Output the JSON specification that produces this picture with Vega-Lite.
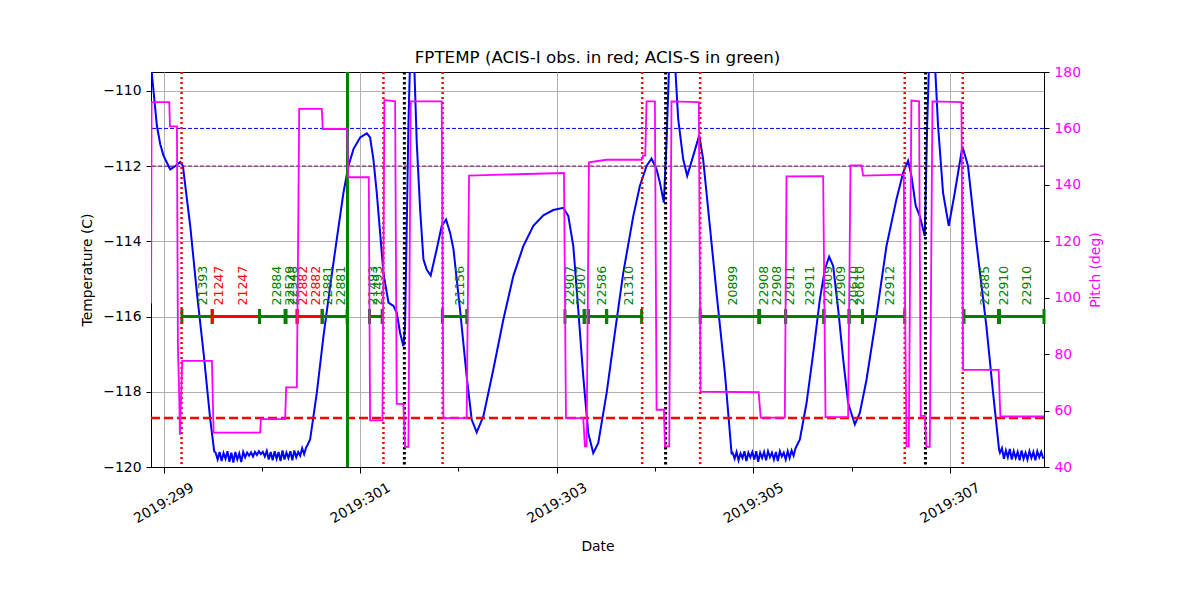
{
  "$schema": "https://vega.github.io/schema/vega-lite/v6.json",
  "width": 893,
  "height": 395,
  "autosize": "none",
  "padding": {"left": 151, "top": 72, "right": 156, "bottom": 133},
  "background": "white",
  "title": {"text": "FPTEMP (ACIS-I obs. in red; ACIS-S in green)", "fontSize": 16.7, "fontWeight": "normal", "font": "DejaVu Sans", "offset": -2, "anchor": "middle", "color": "black"},
  "config": {
    "view": {"stroke": "black", "strokeWidth": 1},
    "font": "DejaVu Sans",
    "axis": {"domainColor": "black", "tickColor": "black", "labelColor": "black", "titleColor": "black", "gridColor": "#b0b0b0", "gridWidth": 1, "labelFontSize": 13.9, "titleFontSize": 13.9, "titleFontWeight": "normal", "labelFont": "DejaVu Sans", "titleFont": "DejaVu Sans", "tickSize": 5}
  },
  "datasets": {
    "temp": [
      {"t": 298.872, "v": -109.3}, {"t": 298.899, "v": -110.04}, {"t": 298.932, "v": -110.93}, {"t": 298.966, "v": -111.42},
      {"t": 299.0, "v": -111.73}, {"t": 299.068, "v": -112.09}, {"t": 299.119, "v": -112.0}, {"t": 299.17, "v": -111.89},
      {"t": 299.197, "v": -112.0}, {"t": 299.221, "v": -112.53}, {"t": 299.271, "v": -113.59}, {"t": 299.339, "v": -115.37},
      {"t": 299.407, "v": -116.97}, {"t": 299.475, "v": -118.74}, {"t": 299.515, "v": -119.58},
      {"t": 299.53, "v": -119.62}, {"t": 299.55, "v": -119.8}, {"t": 299.57, "v": -119.6}, {"t": 299.59, "v": -119.84},
      {"t": 299.61, "v": -119.63}, {"t": 299.63, "v": -119.78}, {"t": 299.65, "v": -119.58}, {"t": 299.67, "v": -119.86},
      {"t": 299.69, "v": -119.62}, {"t": 299.71, "v": -119.88}, {"t": 299.73, "v": -119.6}, {"t": 299.75, "v": -119.8},
      {"t": 299.77, "v": -119.64}, {"t": 299.79, "v": -119.87}, {"t": 299.81, "v": -119.6}, {"t": 299.83, "v": -119.74},
      {"t": 299.85, "v": -119.62}, {"t": 299.87, "v": -119.7}, {"t": 299.89, "v": -119.61}, {"t": 299.91, "v": -119.72},
      {"t": 299.93, "v": -119.6}, {"t": 299.95, "v": -119.68}, {"t": 299.97, "v": -119.58}, {"t": 299.99, "v": -119.66},
      {"t": 300.01, "v": -119.6}, {"t": 300.03, "v": -119.72}, {"t": 300.05, "v": -119.57}, {"t": 300.07, "v": -119.8},
      {"t": 300.09, "v": -119.6}, {"t": 300.11, "v": -119.82}, {"t": 300.13, "v": -119.58}, {"t": 300.15, "v": -119.78},
      {"t": 300.17, "v": -119.6}, {"t": 300.19, "v": -119.84}, {"t": 300.21, "v": -119.56}, {"t": 300.23, "v": -119.8},
      {"t": 300.25, "v": -119.62}, {"t": 300.27, "v": -119.76}, {"t": 300.29, "v": -119.58}, {"t": 300.31, "v": -119.82},
      {"t": 300.33, "v": -119.56}, {"t": 300.35, "v": -119.74}, {"t": 300.37, "v": -119.6}, {"t": 300.39, "v": -119.7},
      {"t": 300.41, "v": -119.5}, {"t": 300.43, "v": -119.66}, {"t": 300.45, "v": -119.48},
      {"t": 300.458, "v": -119.45}, {"t": 300.491, "v": -119.27}, {"t": 300.559, "v": -118.03}, {"t": 300.627, "v": -116.52},
      {"t": 300.695, "v": -115.19}, {"t": 300.762, "v": -113.95}, {"t": 300.83, "v": -112.71}, {"t": 300.881, "v": -112.0},
      {"t": 300.932, "v": -111.55}, {"t": 301.0, "v": -111.24}, {"t": 301.068, "v": -111.13}, {"t": 301.101, "v": -111.24},
      {"t": 301.135, "v": -111.82}, {"t": 301.169, "v": -112.71}, {"t": 301.203, "v": -113.77}, {"t": 301.237, "v": -114.84},
      {"t": 301.288, "v": -115.63}, {"t": 301.339, "v": -115.72}, {"t": 301.373, "v": -115.9}, {"t": 301.406, "v": -116.43},
      {"t": 301.44, "v": -116.79}, {"t": 301.457, "v": -116.26}, {"t": 301.474, "v": -113.59}, {"t": 301.491, "v": -110.93},
      {"t": 301.508, "v": -109.2}, {"t": 301.549, "v": -109.2}, {"t": 301.576, "v": -111.38}, {"t": 301.61, "v": -113.15},
      {"t": 301.644, "v": -114.48}, {"t": 301.677, "v": -114.75}, {"t": 301.718, "v": -114.91}, {"t": 301.779, "v": -114.21},
      {"t": 301.83, "v": -113.59}, {"t": 301.874, "v": -113.42}, {"t": 301.915, "v": -113.77}, {"t": 301.949, "v": -114.2},
      {"t": 302.016, "v": -115.81}, {"t": 302.084, "v": -117.59}, {"t": 302.135, "v": -118.74}, {"t": 302.186, "v": -119.08},
      {"t": 302.254, "v": -118.65}, {"t": 302.355, "v": -117.41}, {"t": 302.457, "v": -116.08}, {"t": 302.559, "v": -114.92},
      {"t": 302.66, "v": -114.13}, {"t": 302.762, "v": -113.59}, {"t": 302.864, "v": -113.31}, {"t": 302.965, "v": -113.17},
      {"t": 303.067, "v": -113.11}, {"t": 303.118, "v": -113.33}, {"t": 303.169, "v": -114.13}, {"t": 303.219, "v": -115.81},
      {"t": 303.27, "v": -117.59}, {"t": 303.321, "v": -119.1}, {"t": 303.372, "v": -119.63}, {"t": 303.423, "v": -119.36},
      {"t": 303.508, "v": -118.03}, {"t": 303.592, "v": -116.43}, {"t": 303.677, "v": -114.84}, {"t": 303.779, "v": -113.33},
      {"t": 303.846, "v": -112.53}, {"t": 303.914, "v": -112.0}, {"t": 303.965, "v": -111.8}, {"t": 304.016, "v": -112.09},
      {"t": 304.05, "v": -112.44}, {"t": 304.09, "v": -112.97}, {"t": 304.117, "v": -111.38}, {"t": 304.145, "v": -109.2},
      {"t": 304.202, "v": -109.2}, {"t": 304.236, "v": -110.75}, {"t": 304.287, "v": -111.82}, {"t": 304.328, "v": -112.26},
      {"t": 304.389, "v": -111.73}, {"t": 304.45, "v": -111.18}, {"t": 304.49, "v": -111.82}, {"t": 304.541, "v": -113.15},
      {"t": 304.626, "v": -115.37}, {"t": 304.711, "v": -117.5}, {"t": 304.779, "v": -119.63},
      {"t": 304.79, "v": -119.62}, {"t": 304.81, "v": -119.78}, {"t": 304.83, "v": -119.6}, {"t": 304.85, "v": -119.82},
      {"t": 304.87, "v": -119.64}, {"t": 304.89, "v": -119.76}, {"t": 304.91, "v": -119.58}, {"t": 304.93, "v": -119.84},
      {"t": 304.95, "v": -119.62}, {"t": 304.97, "v": -119.74}, {"t": 304.99, "v": -119.6}, {"t": 305.01, "v": -119.8},
      {"t": 305.03, "v": -119.58}, {"t": 305.05, "v": -119.86}, {"t": 305.07, "v": -119.62}, {"t": 305.09, "v": -119.76},
      {"t": 305.11, "v": -119.6}, {"t": 305.13, "v": -119.82}, {"t": 305.15, "v": -119.58}, {"t": 305.17, "v": -119.74},
      {"t": 305.19, "v": -119.62}, {"t": 305.21, "v": -119.8}, {"t": 305.23, "v": -119.6}, {"t": 305.25, "v": -119.84},
      {"t": 305.27, "v": -119.58}, {"t": 305.29, "v": -119.72}, {"t": 305.31, "v": -119.62}, {"t": 305.33, "v": -119.8},
      {"t": 305.35, "v": -119.58}, {"t": 305.37, "v": -119.76}, {"t": 305.39, "v": -119.56}, {"t": 305.41, "v": -119.7},
      {"t": 305.43, "v": -119.5},
      {"t": 305.44, "v": -119.45}, {"t": 305.474, "v": -119.27}, {"t": 305.542, "v": -118.3}, {"t": 305.61, "v": -116.97},
      {"t": 305.677, "v": -115.55}, {"t": 305.728, "v": -114.75}, {"t": 305.772, "v": -114.41}, {"t": 305.813, "v": -114.66},
      {"t": 305.864, "v": -115.81}, {"t": 305.915, "v": -117.14}, {"t": 305.965, "v": -118.3}, {"t": 306.033, "v": -118.87},
      {"t": 306.084, "v": -118.56}, {"t": 306.152, "v": -117.68}, {"t": 306.253, "v": -115.99}, {"t": 306.355, "v": -114.13},
      {"t": 306.457, "v": -112.88}, {"t": 306.525, "v": -112.17}, {"t": 306.575, "v": -111.86}, {"t": 306.609, "v": -112.26},
      {"t": 306.653, "v": -113.06}, {"t": 306.694, "v": -113.33}, {"t": 306.745, "v": -113.86}, {"t": 306.769, "v": -110.93},
      {"t": 306.789, "v": -109.2}, {"t": 306.847, "v": -109.2}, {"t": 306.88, "v": -110.93}, {"t": 306.931, "v": -112.71},
      {"t": 306.989, "v": -113.59}, {"t": 307.05, "v": -112.71}, {"t": 307.128, "v": -111.48}, {"t": 307.185, "v": -112.0},
      {"t": 307.27, "v": -114.04}, {"t": 307.372, "v": -116.26}, {"t": 307.44, "v": -118.03}, {"t": 307.501, "v": -119.54},
      {"t": 307.51, "v": -119.62}, {"t": 307.53, "v": -119.5}, {"t": 307.55, "v": -119.78}, {"t": 307.57, "v": -119.56},
      {"t": 307.59, "v": -119.74}, {"t": 307.61, "v": -119.52}, {"t": 307.63, "v": -119.8}, {"t": 307.65, "v": -119.58},
      {"t": 307.67, "v": -119.76}, {"t": 307.69, "v": -119.6}, {"t": 307.71, "v": -119.82}, {"t": 307.73, "v": -119.56},
      {"t": 307.75, "v": -119.78}, {"t": 307.77, "v": -119.62}, {"t": 307.79, "v": -119.8}, {"t": 307.81, "v": -119.58},
      {"t": 307.83, "v": -119.76}, {"t": 307.85, "v": -119.6}, {"t": 307.87, "v": -119.82}, {"t": 307.89, "v": -119.58},
      {"t": 307.91, "v": -119.74}, {"t": 307.93, "v": -119.6}, {"t": 307.95, "v": -119.78}
    ],
    "pitch": [
      {"t": 298.873, "p": 98}, {"t": 298.878, "p": 169.3}, {"t": 299.058, "p": 169.3}, {"t": 299.065, "p": 160.7},
      {"t": 299.136, "p": 160.7}, {"t": 299.146, "p": 82.6}, {"t": 299.16, "p": 63.8}, {"t": 299.166, "p": 51.4},
      {"t": 299.19, "p": 77.6}, {"t": 299.492, "p": 77.6}, {"t": 299.509, "p": 52.2}, {"t": 299.983, "p": 52.2},
      {"t": 299.99, "p": 57.0}, {"t": 300.237, "p": 57.0}, {"t": 300.247, "p": 68.2}, {"t": 300.356, "p": 68.2},
      {"t": 300.38, "p": 166.9}, {"t": 300.61, "p": 166.9}, {"t": 300.62, "p": 159.8}, {"t": 300.868, "p": 159.8},
      {"t": 300.878, "p": 142.7}, {"t": 301.088, "p": 142.7}, {"t": 301.101, "p": 56.5}, {"t": 301.227, "p": 56.5},
      {"t": 301.247, "p": 170.1}, {"t": 301.356, "p": 169.6}, {"t": 301.372, "p": 62.4}, {"t": 301.44, "p": 62.4},
      {"t": 301.457, "p": 47.1}, {"t": 301.491, "p": 47.1}, {"t": 301.515, "p": 169.6}, {"t": 301.83, "p": 169.6},
      {"t": 301.847, "p": 57.3}, {"t": 302.084, "p": 57.3}, {"t": 302.108, "p": 143.3}, {"t": 303.074, "p": 144.2},
      {"t": 303.094, "p": 57.3}, {"t": 303.27, "p": 57.3}, {"t": 303.287, "p": 47.3}, {"t": 303.304, "p": 47.3},
      {"t": 303.328, "p": 148.0}, {"t": 303.508, "p": 148.9}, {"t": 303.863, "p": 148.9}, {"t": 303.88, "p": 150.4},
      {"t": 303.901, "p": 150.4}, {"t": 303.914, "p": 169.6}, {"t": 303.999, "p": 169.6}, {"t": 304.016, "p": 60.3},
      {"t": 304.091, "p": 60.3}, {"t": 304.101, "p": 47.3}, {"t": 304.145, "p": 47.3}, {"t": 304.168, "p": 169.6},
      {"t": 304.446, "p": 169.3}, {"t": 304.463, "p": 66.7}, {"t": 305.055, "p": 66.5}, {"t": 305.075, "p": 57.5},
      {"t": 305.321, "p": 57.5}, {"t": 305.338, "p": 143.0}, {"t": 305.711, "p": 143.1}, {"t": 305.735, "p": 57.7},
      {"t": 305.965, "p": 57.7}, {"t": 305.989, "p": 146.9}, {"t": 306.101, "p": 146.9}, {"t": 306.118, "p": 143.3},
      {"t": 306.531, "p": 143.6}, {"t": 306.559, "p": 47.3}, {"t": 306.582, "p": 47.3}, {"t": 306.609, "p": 169.9},
      {"t": 306.687, "p": 169.6}, {"t": 306.704, "p": 58.1}, {"t": 306.745, "p": 58.1}, {"t": 306.762, "p": 47.1},
      {"t": 306.796, "p": 47.1}, {"t": 306.823, "p": 169.6}, {"t": 307.118, "p": 169.3}, {"t": 307.135, "p": 74.4},
      {"t": 307.497, "p": 74.4}, {"t": 307.514, "p": 57.9}, {"t": 307.958, "p": 57.9}
    ],
    "segments": [
      {"t": 299.186, "t2": 299.495, "inst": "ACIS-S"},
      {"t": 299.495, "t2": 299.976, "inst": "ACIS-I"},
      {"t": 299.976, "t2": 300.236, "inst": "ACIS-S"},
      {"t": 300.246, "t2": 300.359, "inst": "ACIS-S"},
      {"t": 300.359, "t2": 300.614, "inst": "ACIS-I"},
      {"t": 300.614, "t2": 300.868, "inst": "ACIS-S"},
      {"t": 301.095, "t2": 301.224, "inst": "ACIS-S"},
      {"t": 301.837, "t2": 302.085, "inst": "ACIS-S"},
      {"t": 303.084, "t2": 303.28, "inst": "ACIS-S"},
      {"t": 303.28, "t2": 303.321, "inst": "ACIS-S"},
      {"t": 303.321, "t2": 303.508, "inst": "ACIS-S"},
      {"t": 303.508, "t2": 303.864, "inst": "ACIS-S"},
      {"t": 304.46, "t2": 305.055, "inst": "ACIS-S"},
      {"t": 305.065, "t2": 305.329, "inst": "ACIS-S"},
      {"t": 305.329, "t2": 305.718, "inst": "ACIS-S"},
      {"t": 305.718, "t2": 305.975, "inst": "ACIS-S"},
      {"t": 305.975, "t2": 306.111, "inst": "ACIS-S"},
      {"t": 306.111, "t2": 306.541, "inst": "ACIS-S"},
      {"t": 307.144, "t2": 307.495, "inst": "ACIS-S"},
      {"t": 307.505, "t2": 307.958, "inst": "ACIS-S"}
    ],
    "labels": [
      {"t": 299.397, "obsid": "21393", "inst": "ACIS-S"},
      {"t": 299.559, "obsid": "21247", "inst": "ACIS-I"},
      {"t": 299.807, "obsid": "21247", "inst": "ACIS-I"},
      {"t": 300.153, "obsid": "22884", "inst": "ACIS-S"},
      {"t": 300.288, "obsid": "22529", "inst": "ACIS-S"},
      {"t": 300.316, "obsid": "22548", "inst": "ACIS-S"},
      {"t": 300.417, "obsid": "22882", "inst": "ACIS-I"},
      {"t": 300.55, "obsid": "22882", "inst": "ACIS-I"},
      {"t": 300.668, "obsid": "22881", "inst": "ACIS-S"},
      {"t": 300.804, "obsid": "22881", "inst": "ACIS-S"},
      {"t": 301.135, "obsid": "21493", "inst": "ACIS-S"},
      {"t": 301.186, "obsid": "21493", "inst": "ACIS-S"},
      {"t": 302.017, "obsid": "21156", "inst": "ACIS-S"},
      {"t": 303.135, "obsid": "22907", "inst": "ACIS-S"},
      {"t": 303.244, "obsid": "22907", "inst": "ACIS-S"},
      {"t": 303.464, "obsid": "22586", "inst": "ACIS-S"},
      {"t": 303.735, "obsid": "21310", "inst": "ACIS-S"},
      {"t": 304.796, "obsid": "20899", "inst": "ACIS-S"},
      {"t": 305.111, "obsid": "22908", "inst": "ACIS-S"},
      {"t": 305.243, "obsid": "22908", "inst": "ACIS-S"},
      {"t": 305.372, "obsid": "22911", "inst": "ACIS-S"},
      {"t": 305.575, "obsid": "22911", "inst": "ACIS-S"},
      {"t": 305.762, "obsid": "22909", "inst": "ACIS-S"},
      {"t": 305.888, "obsid": "22909", "inst": "ACIS-S"},
      {"t": 306.023, "obsid": "20610", "inst": "ACIS-S"},
      {"t": 306.084, "obsid": "20610", "inst": "ACIS-S"},
      {"t": 306.389, "obsid": "22912", "inst": "ACIS-S"},
      {"t": 307.362, "obsid": "22885", "inst": "ACIS-S"},
      {"t": 307.548, "obsid": "22910", "inst": "ACIS-S"},
      {"t": 307.785, "obsid": "22910", "inst": "ACIS-S"}
    ],
    "redEvents": [{"t": 299.183}, {"t": 301.237}, {"t": 301.839}, {"t": 303.87}, {"t": 304.46}, {"t": 306.541}, {"t": 307.131}],
    "blackEvents": [{"t": 301.45}, {"t": 304.108}, {"t": 306.752}],
    "greenEvents": [{"t": 300.871}]
  },
  "layer": [
    {
      "layer": [
        {
          "data": {"name": "temp"},
          "mark": {"type": "line", "color": "#0000ff", "strokeWidth": 2, "clip": true},
          "encoding": {
            "x": {
              "field": "t", "type": "quantitative",
              "scale": {"domain": [298.872, 307.958], "nice": false, "zero": false},
              "axis": {
                "title": "Date",
                "values": [299, 300, 301, 302, 303, 304, 305, 306, 307],
                "labelExpr": "datum.value % 2 == 1 ? '2019:' + datum.value : ''",
                "gridOpacity": {"condition": {"test": "datum.value % 2 == 0", "value": 0}, "value": 1},
                "tickSize": {"condition": {"test": "datum.value % 2 == 0", "value": 4}, "value": 6},
                "labelAngle": -30, "labelAlign": "center", "labelBaseline": "middle",
                "labelPadding": 30, "titlePadding": 14, "labelOverlap": false, "labelFlush": false, "labelBound": false
              }
            },
            "y": {
              "field": "v", "type": "quantitative",
              "scale": {"domain": [-120, -109.5], "nice": false, "zero": false},
              "axis": {"title": "Temperature (C)", "values": [-120, -118, -116, -114, -112, -110], "labelPadding": 5, "titlePadding": 8, "grid": true}
            }
          }
        },
        {
          "data": {"values": [{"v": -111}]},
          "mark": {"type": "rule", "color": "#0000ff", "strokeWidth": 1, "strokeDash": [4, 2]},
          "encoding": {"y": {"field": "v", "type": "quantitative", "scale": {"domain": [-120, -109.5], "nice": false, "zero": false}, "axis": {"title": "Temperature (C)"}}}
        },
        {
          "data": {"values": [{"v": -112}]},
          "mark": {"type": "rule", "color": "#800080", "strokeWidth": 1, "strokeDash": [4, 2]},
          "encoding": {"y": {"field": "v", "type": "quantitative", "scale": {"domain": [-120, -109.5], "nice": false, "zero": false}, "axis": {"title": "Temperature (C)"}}}
        },
        {
          "data": {"values": [{"v": -118.7}]},
          "mark": {"type": "rule", "color": "#ff0000", "strokeWidth": 2.5, "strokeDash": [9, 4]},
          "encoding": {"y": {"field": "v", "type": "quantitative", "scale": {"domain": [-120, -109.5], "nice": false, "zero": false}, "axis": {"title": "Temperature (C)"}}}
        },
        {
          "data": {"name": "segments"},
          "mark": {"type": "rule", "strokeWidth": 3},
          "encoding": {
            "x": {"field": "t", "type": "quantitative", "scale": {"domain": [298.872, 307.958], "nice": false, "zero": false}, "axis": {"title": "Date"}},
            "x2": {"field": "t2"},
            "y": {"datum": -116, "type": "quantitative", "scale": {"domain": [-120, -109.5], "nice": false, "zero": false}, "axis": {"title": "Temperature (C)"}},
            "color": {"field": "inst", "type": "nominal", "scale": {"domain": ["ACIS-I", "ACIS-S"], "range": ["#ff0000", "#008000"]}, "legend": null}
          }
        },
        {
          "data": {"name": "segments"},
          "mark": {"type": "tick", "orient": "vertical", "size": 15, "thickness": 3, "opacity": 1},
          "encoding": {
            "x": {"field": "t2", "type": "quantitative", "scale": {"domain": [298.872, 307.958], "nice": false, "zero": false}, "axis": {"title": "Date"}},
            "y": {"datum": -116, "type": "quantitative", "scale": {"domain": [-120, -109.5], "nice": false, "zero": false}, "axis": {"title": "Temperature (C)"}},
            "color": {"field": "inst", "type": "nominal", "legend": null}
          }
        },
        {
          "data": {"name": "segments"},
          "mark": {"type": "tick", "orient": "vertical", "size": 15, "thickness": 3, "opacity": 1},
          "encoding": {
            "x": {"field": "t", "type": "quantitative", "scale": {"domain": [298.872, 307.958], "nice": false, "zero": false}, "axis": {"title": "Date"}},
            "y": {"datum": -116, "type": "quantitative", "scale": {"domain": [-120, -109.5], "nice": false, "zero": false}, "axis": {"title": "Temperature (C)"}},
            "color": {"field": "inst", "type": "nominal", "legend": null}
          }
        },
        {
          "data": {"name": "labels"},
          "mark": {"type": "text", "angle": 270, "align": "left", "baseline": "middle", "yOffset": -11, "fontSize": 12.5, "font": "DejaVu Sans"},
          "encoding": {
            "x": {"field": "t", "type": "quantitative", "scale": {"domain": [298.872, 307.958], "nice": false, "zero": false}, "axis": {"title": "Date"}},
            "y": {"datum": -116, "type": "quantitative", "scale": {"domain": [-120, -109.5], "nice": false, "zero": false}, "axis": {"title": "Temperature (C)"}},
            "text": {"field": "obsid", "type": "nominal"},
            "color": {"field": "inst", "type": "nominal", "legend": null}
          }
        },
        {
          "data": {"name": "redEvents"},
          "mark": {"type": "rule", "color": "#ff0000", "strokeWidth": 2.5, "strokeDash": [2, 3]},
          "encoding": {"x": {"field": "t", "type": "quantitative", "scale": {"domain": [298.872, 307.958], "nice": false, "zero": false}, "axis": {"title": "Date"}}}
        },
        {
          "data": {"name": "blackEvents"},
          "mark": {"type": "rule", "color": "#000000", "strokeWidth": 3, "strokeDash": [2.5, 2.5]},
          "encoding": {"x": {"field": "t", "type": "quantitative", "scale": {"domain": [298.872, 307.958], "nice": false, "zero": false}, "axis": {"title": "Date"}}}
        },
        {
          "data": {"name": "greenEvents"},
          "mark": {"type": "rule", "color": "#008000", "strokeWidth": 3},
          "encoding": {"x": {"field": "t", "type": "quantitative", "scale": {"domain": [298.872, 307.958], "nice": false, "zero": false}, "axis": {"title": "Date"}}}
        }
      ]
    },
    {
      "data": {"name": "pitch"},
      "mark": {"type": "line", "color": "#ff00ff", "strokeWidth": 1.8, "clip": true},
      "encoding": {
        "x": {"field": "t", "type": "quantitative", "scale": {"domain": [298.872, 307.958], "nice": false, "zero": false}, "axis": {"title": "Date"}},
        "y": {
          "field": "p", "type": "quantitative",
          "scale": {"domain": [40, 180], "nice": false, "zero": false},
          "axis": {"orient": "right", "title": "Pitch (deg)", "values": [40, 60, 80, 100, 120, 140, 160, 180], "labelColor": "#ff00ff", "titleColor": "#ff00ff", "grid": false, "labelPadding": 5, "titlePadding": 8, "titleAngle": 270, "titleBaseline": "top"}
        }
      }
    }
  ],
  "resolve": {"scale": {"y": "independent"}}
}
